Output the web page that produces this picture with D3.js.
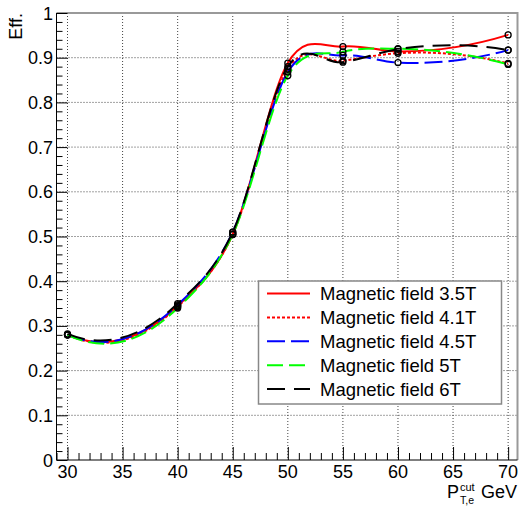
<!DOCTYPE html>
<html>
<head>
<meta charset="utf-8">
<script src="https://cdn.jsdelivr.net/npm/d3@7"></script>
<style>
  body { margin: 0; background: #fff; }
  text { font-family: "Liberation Sans", Arial, sans-serif; }
</style>
</head>
<body>
<div id="chart"></div>
<script>
// data
const ptCut = [30, 40, 45, 50, 55, 60, 70];
const eff35 = [0.280, 0.345, 0.505, 0.888, 0.925, 0.914, 0.951];
const eff41 = [0.280, 0.343, 0.505, 0.875, 0.893, 0.910, 0.887];
const eff45 = [0.280, 0.347, 0.510, 0.868, 0.905, 0.889, 0.917];
const eff5  = [0.280, 0.340, 0.505, 0.860, 0.913, 0.920, 0.885];
const eff6  = [0.282, 0.350, 0.510, 0.880, 0.890, 0.919, 0.917];
const seriesNames = ["Magnetic field 3.5T", "Magnetic field 4.1T", "Magnetic field 4.5T", "Magnetic field 5T", "Magnetic field 6T"];
const xTicks = [30, 35, 40, 45, 50, 55, 60, 65, 70];
const yTicks = [0, 0.1, 0.2, 0.3, 0.4, 0.5, 0.6, 0.7, 0.8, 0.9, 1];

const series = [
    { name: seriesNames[0], values: eff35, color: "#ff0000", dash: null },
    { name: seriesNames[1], values: eff41, color: "#ff0000", dash: "3,2" },
    { name: seriesNames[2], values: eff45, color: "#0000ff", dash: "18,6" },
    { name: seriesNames[3], values: eff5,  color: "#00ff00", dash: "16,6" },
    { name: seriesNames[4], values: eff6,  color: "#000000", dash: "18,9" }
];

// hermite curve with parabolic (Bessel) tangents, no monotone clamping -
// gives the same undershoot / overshoot as ROOT's smoothed "C" lines
function curveBessel(context) {
    let pts = [];
    return {
        areaStart() {}, areaEnd() {},
        lineStart() { pts = []; },
        point(px, py) { pts.push([+px, +py]); },
        lineEnd() {
            const n = pts.length - 1;
            if (n < 1) return;
            context.moveTo(pts[0][0], pts[0][1]);
            if (n < 2) { context.lineTo(pts[1][0], pts[1][1]); return; }
            const h = [], d = [];
            for (let i = 0; i < n; i++) {
                h.push(pts[i + 1][0] - pts[i][0]);
                d.push((pts[i + 1][1] - pts[i][1]) / h[i]);
            }
            const m = [];
            m.push(d[0] + (d[0] - d[1]) * h[0] / (h[0] + h[1]));
            for (let i = 1; i < n; i++) {
                m.push((d[i - 1] * h[i] + d[i] * h[i - 1]) / (h[i - 1] + h[i]));
            }
            m.push(d[n - 1] + (d[n - 1] - d[n - 2]) * h[n - 1] / (h[n - 1] + h[n - 2]));
            for (let i = 0; i < n; i++) {
                const t = h[i] / 3;
                context.bezierCurveTo(
                    pts[i][0] + t, pts[i][1] + m[i] * t,
                    pts[i + 1][0] - t, pts[i + 1][1] - m[i + 1] * t,
                    pts[i + 1][0], pts[i + 1][1]);
            }
        }
    };
}

const W = 519, H = 507;
const fLeft = 56.5, fRight = 517.5, fTop = 13, fBottom = 460;

const svg = d3.select("#chart").append("svg")
    .attr("width", W)
    .attr("height", H);

const x = d3.scaleLinear().domain([29, 70.85]).range([fLeft, fRight]);
const y = d3.scaleLinear().domain([0, 1]).range([fBottom, fTop]);

// grid
svg.append("g").selectAll("line")
    .data(xTicks)
    .enter().append("line")
    .attr("x1", d => x(d)).attr("x2", d => x(d))
    .attr("y1", fTop).attr("y2", fBottom)
    .attr("stroke", "#444").attr("stroke-width", 1)
    .attr("stroke-dasharray", "1,2");

svg.append("g").selectAll("line")
    .data(yTicks.filter(d => d > 0 && d < 1))
    .enter().append("line")
    .attr("x1", fLeft).attr("x2", fRight)
    .attr("y1", d => y(d)).attr("y2", d => y(d))
    .attr("stroke", "#444").attr("stroke-width", 1)
    .attr("stroke-dasharray", "1,2");

// frame (top/right grey)
svg.append("path")
    .attr("d", `M${fLeft},${fTop}H${fRight}V${fBottom}`)
    .attr("fill", "none")
    .attr("stroke", "#999")
    .attr("stroke-width", 2);

// axes, ticks pointing inside like ROOT
const xAxis = d3.axisTop(x)
    .tickValues(d3.range(29, 71, 1))
    .tickSize(7)
    .tickFormat("");
const gx = svg.append("g")
    .attr("transform", `translate(0,${fBottom})`)
    .call(xAxis);
gx.selectAll(".tick line")
    .attr("y2", d => xTicks.includes(d) ? -13 : -7);

const yAxis = d3.axisRight(y)
    .tickValues(d3.range(0, 1.001, 0.02))
    .tickSize(6)
    .tickFormat("");
const gy = svg.append("g")
    .attr("transform", `translate(${fLeft},0)`)
    .call(yAxis);
gy.selectAll(".tick line")
    .attr("x2", (d, i) => i % 5 === 0 ? 11 : 6);

[gx, gy].forEach(g => {
    g.select(".domain").attr("stroke", "#000").attr("stroke-width", 1);
    g.selectAll(".tick line").attr("stroke", "#000");
});
gx.select(".domain").attr("d", `M${fLeft},0H${fRight}`);
gy.select(".domain").attr("d", `M0,${fTop}V${fBottom}`);

// tick labels
svg.append("g").selectAll("text")
    .data(xTicks)
    .enter().append("text")
    .attr("x", d => x(d))
    .attr("y", 478)
    .attr("text-anchor", "middle")
    .attr("font-size", 18)
    .text(d => d);

svg.append("g").selectAll("text")
    .data(yTicks)
    .enter().append("text")
    .attr("x", 53)
    .attr("y", d => y(d) + 6.5)
    .attr("text-anchor", "end")
    .attr("font-size", 18)
    .text(d => d3.format("")(+d.toFixed(1)));

// axis titles
svg.append("text")
    .attr("transform", "translate(22,13) rotate(-90)")
    .attr("text-anchor", "end")
    .attr("font-size", 18)
    .text("Eff.");

const xt = svg.append("g");
xt.append("text").attr("x", 447).attr("y", 498).attr("font-size", 18).text("P");
xt.append("text").attr("x", 460).attr("y", 491).attr("font-size", 11).text("cut");
xt.append("text").attr("x", 460).attr("y", 504).attr("font-size", 10.5).text("T,e");
xt.append("text").attr("x", 517).attr("y", 498).attr("text-anchor", "end").attr("font-size", 18).text("GeV");

// curves
const line = d3.line()
    .x((d, i) => x(ptCut[i]))
    .y(d => y(d))
    .curve(curveBessel);

const plot = svg.append("g");
series.forEach(s => {
    plot.append("path")
        .datum(s.values)
        .attr("fill", "none")
        .attr("stroke", s.color)
        .attr("stroke-width", 2)
        .attr("stroke-dasharray", s.dash)
        .attr("d", line);
});
series.forEach(s => {
    plot.selectAll(null)
        .data(s.values)
        .enter().append("circle")
        .attr("cx", (d, i) => x(ptCut[i]))
        .attr("cy", d => y(d))
        .attr("r", 3)
        .attr("fill", "none")
        .attr("stroke", "#000")
        .attr("stroke-width", 1.3);
});

// legend
const lg = svg.append("g");
lg.append("rect")
    .attr("x", 258.5).attr("y", 281)
    .attr("width", 243).attr("height", 123)
    .attr("fill", "#fff")
    .attr("stroke", "#888")
    .attr("stroke-width", 1.5);
series.forEach((s, i) => {
    const cy = 293.5 + i * 23.9;
    lg.append("line")
        .attr("x1", 267).attr("x2", 310)
        .attr("y1", cy).attr("y2", cy)
        .attr("stroke", s.color)
        .attr("stroke-width", 2)
        .attr("stroke-dasharray", s.dash);
    lg.append("text")
        .attr("x", 320).attr("y", cy + 6.5)
        .attr("font-size", 18.5)
        .text(s.name);
});
</script>
</body>
</html>
